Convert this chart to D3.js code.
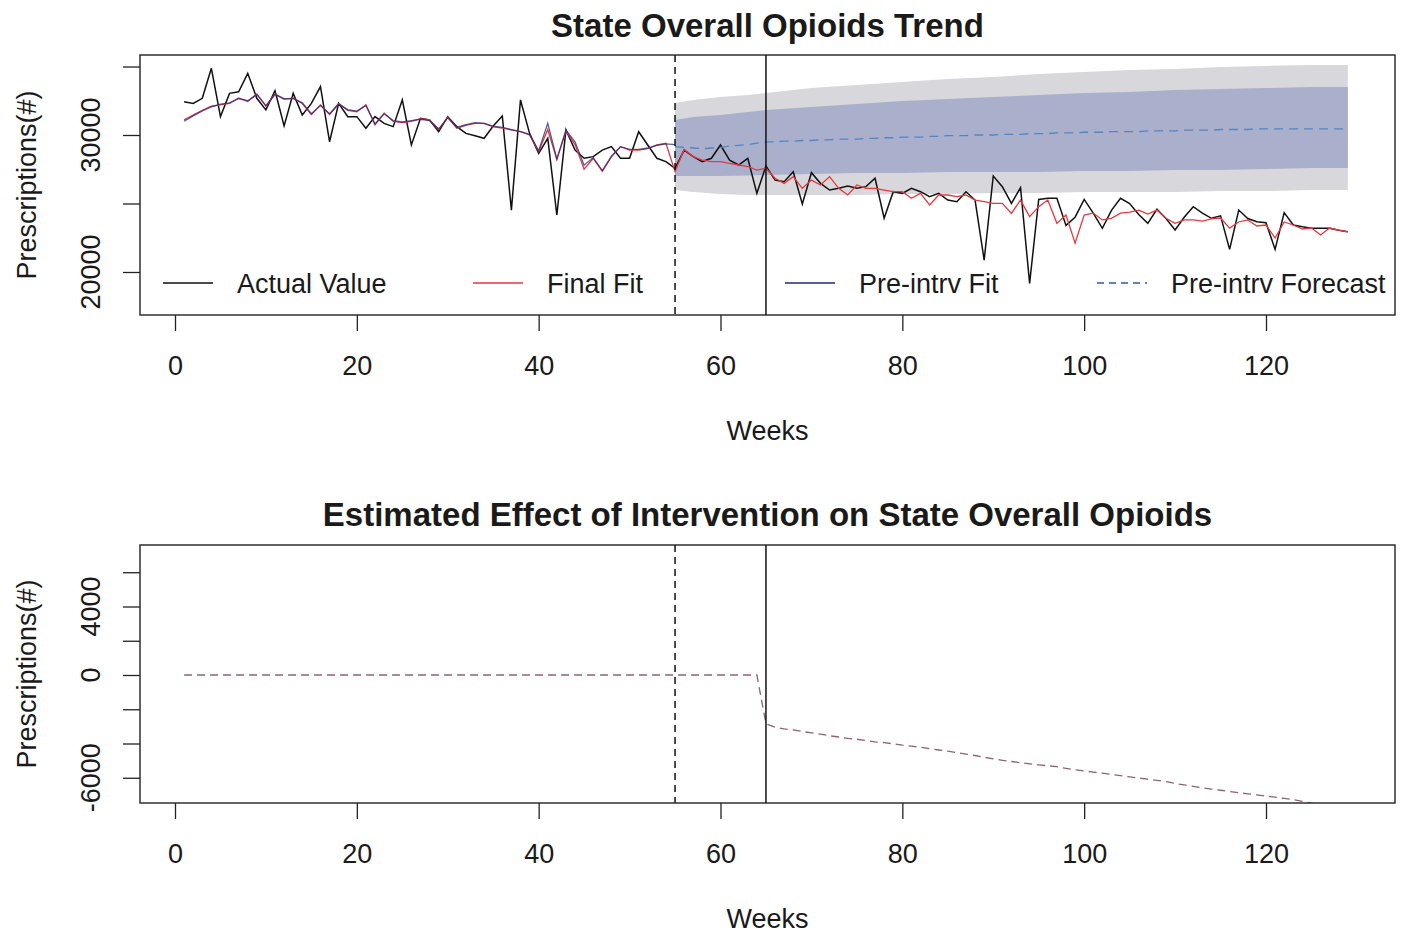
<!DOCTYPE html>
<html>
<head>
<meta charset="utf-8">
<script src="https://cdn.jsdelivr.net/npm/d3@7"></script>
<style>
body { margin: 0; background: #fff; }
text { font-family: "Liberation Sans", Arial, sans-serif; fill: #1a1a1a; }
</style>
</head>
<body>
<div id="chart"></div>
<script>
var width = 1401,
    height = 933;

// weekly values, week 1 .. 129
var actual = [
  32430, 32300, 32680, 34870, 31340, 33040, 33160, 34500, 32680, 31830,
  33230, 30660, 33040, 31460, 32310, 33530, 29510, 32310, 31340, 31340,
  30490, 31340, 30850, 30610, 32560, 29270, 31220, 31100, 30240, 31340,
  30610, 30120, 29950, 29760, 30660, 31390, 24520, 32560, 30120, 28660,
  29760, 24160, 30370, 28900, 28300, 28420, 28900, 29150, 28300, 28300,
  30240, 29270, 28300, 28060, 27570, 28900, 28420, 28060, 28300, 29270,
  28170, 27810, 28300, 25740, 27740, 26710, 26590, 27320, 24960, 27250,
  26470, 25980, 26110, 26280, 26110, 26230, 26840, 23920, 25860, 25740,
  26110, 25860, 25500, 25740, 25250, 25130, 25860, 25250, 20870, 27010,
  26230, 25010, 26150, 19170, 25300, 25380, 25380, 23400, 24000, 25300,
  24300, 23190, 24500, 25380, 25000, 24200, 23550, 24580, 23900, 23070,
  24000, 24770, 24300, 23920, 24100, 21650, 24520, 23900, 23670, 23600,
  21650, 24330, 23430, 23300, 23190, 23200, 23190, 23050, 22940
];

var finalFit = [
  31100, 31450, 31800, 32100, 32200, 32300, 32700, 32450, 33000, 32100,
  33000, 32600, 32700, 32300, 31500, 32200, 31500, 32300, 31800, 31700,
  32200, 30750, 31600, 31000, 30900, 31000, 31200, 31100, 30400, 31300,
  30500, 30700, 30850, 30850, 30600, 30500, 30370, 30240, 30000, 28800,
  30400, 28200, 30300, 29300, 27500, 28300, 27350, 28400, 29150, 28900,
  28900, 29000, 29270, 29390, 27320, 28950, 28420, 28170, 28060, 28060,
  27930, 27810, 27700, 27440, 27570, 26840, 26470, 26960, 26110, 26710,
  26350, 26960, 26110, 25620, 26350, 26110, 26110, 25980, 25860, 25860,
  25380, 25740, 24890, 25620, 25620, 25500, 25620, 25250, 25130, 25010,
  25010, 24280, 25250, 24040, 24770, 25250, 23550, 24160, 22100, 24160,
  24300, 23800, 23920, 24300, 24370, 24520, 24230, 24520, 23920, 23550,
  23800, 23800, 23720, 23870, 23940, 23200, 23650, 23800, 23360, 23430,
  22480, 23650, 23430, 23140, 23210, 22700, 23210, 23060, 22920
];

// pre-intervention fit, week 1 .. 55
var preFit = [
  31000, 31400, 31750, 32050, 32250, 32350, 32650, 32500, 32950, 32150,
  32950, 32650, 32650, 32350, 31550, 32150, 31550, 32250, 31850, 31750,
  32150, 30800, 31550, 31050, 30950, 31050, 31150, 31050, 30450, 31250,
  30550, 30750, 30900, 30850, 30650, 30550, 30400, 30250, 30050, 28850,
  30850, 28250, 30350, 29500, 27800, 28350, 27400, 28450, 29150, 28950,
  28950, 29050, 29250, 29350, 29300
];

// pre-intervention forecast, week 55 .. 129
var forecast = [
  29150, 29100, 29050, 29000, 29050, 29100, 29200, 29250, 29300, 29400,
  29500, 29500, 29550, 29550, 29600, 29600, 29650, 29650, 29700, 29700,
  29700, 29750, 29750, 29800, 29800, 29850, 29850, 29850, 29900, 29900,
  29950, 29950, 29950, 30000, 30000, 30000, 30050, 30050, 30050, 30100,
  30100, 30100, 30150, 30150, 30150, 30200, 30200, 30200, 30250, 30250,
  30250, 30250, 30300, 30300, 30300, 30300, 30350, 30350, 30350, 30350,
  30400, 30400, 30400, 30400, 30450, 30450, 30450, 30450, 30450, 30450,
  30450, 30450, 30450, 30450, 30450
];

// forecast intervals read at these weeks
var bandWeeks = [55, 57, 60, 63, 65, 70, 75, 80, 85, 90, 95, 100, 105, 110, 115, 120, 125, 129];
var outerHi = [32340, 32560, 32770, 32920, 33070, 33430, 33650, 33870, 34090, 34230, 34450, 34600, 34750, 34820, 34960, 35040, 35110, 35110];
var innerHi = [31100, 31310, 31460, 31680, 31830, 32040, 32260, 32480, 32630, 32770, 32920, 33070, 33140, 33290, 33360, 33430, 33500, 33500];
var innerLo = [27010, 27010, 27010, 27040, 27080, 27150, 27230, 27230, 27300, 27300, 27300, 27370, 27370, 27440, 27440, 27520, 27590, 27590];
var outerLo = [25990, 25840, 25700, 25620, 25620, 25620, 25620, 25700, 25700, 25770, 25770, 25840, 25840, 25840, 25910, 25910, 25990, 25990];

// estimated effect, week 1 .. 129
var effect = [
  0, 0, 0, 0, 0, 0, 0, 0, 0, 0,
  0, 0, 0, 0, 0, 0, 0, 0, 0, 0,
  0, 0, 0, 0, 0, 0, 0, 0, 0, 0,
  0, 0, 0, 0, 0, 0, 0, 0, 0, 0,
  0, 0, 0, 0, 0, 0, 0, 0, 0, 0,
  0, 0, 0, 0, 0, 0, 0, 0, 0, 0,
  0, 0, 0, 0, -2850, -3050, -3150, -3200, -3300, -3380,
  -3450, -3550, -3620, -3700, -3750, -3830, -3900, -3950, -4020, -4100,
  -4150, -4220, -4300, -4380, -4450, -4530, -4620, -4700, -4800, -4900,
  -4980, -5050, -5120, -5190, -5250, -5300, -5350, -5450, -5540, -5600,
  -5670, -5730, -5800, -5880, -5950, -6020, -6080, -6150, -6230, -6330,
  -6420, -6500, -6590, -6660, -6730, -6800, -6870, -6940, -7000, -7070,
  -7130, -7200, -7280, -7380, -7480, -7560, -7640, -7710, -7790
];

var xTicks = [0, 20, 40, 60, 80, 100, 120];
var topTicks = [20000, 25000, 30000, 35000];
var topLabels = [20000, 30000];
var botTicks = [-6000, -4000, -2000, 0, 2000, 4000, 6000];
var botLabels = [-6000, 0, 4000];

var preStart = 55,
    interventionWeek = 65;

var legendNames = ["Actual Value", "Final Fit", "Pre-intrv Fit", "Pre-intrv Forecast"];
var legendColors = ["#111111", "#e23a40", "#1f2a78", "#2f5aa8"];
var legendDash = [null, null, null, "7,5"];

var left = 140, right = 1395;
var topBox = { y0: 55, y1: 315 },
    botBox = { y0: 545, y1: 803 };

var svg = d3.select("#chart")
  .append("svg")
  .attr("width", width)
  .attr("height", height);

svg.append("rect")
  .attr("width", width)
  .attr("height", height)
  .attr("fill", "#fff");

var x = d3.scaleLinear().domain([0, 120]).range([175, 1266]);
var yTop = d3.scaleLinear().domain([16860, 35840]).range([topBox.y1, topBox.y0]);
var yBot = d3.scaleLinear().domain([-7474, 7591]).range([botBox.y1, botBox.y0]);

function addClip(id, box) {
  svg.append("clipPath")
    .attr("id", id)
    .append("rect")
    .attr("x", left)
    .attr("y", box.y0)
    .attr("width", right - left)
    .attr("height", box.y1 - box.y0);
}
addClip("clipTop", topBox);
addClip("clipBot", botBox);

function lineFrom(y, start) {
  return d3.line()
    .x(function (d, i) { return x(i + start); })
    .y(function (d) { return y(d); });
}

function drawAxes(box, y, ticks, labels) {
  svg.append("g")
    .attr("transform", "translate(0," + box.y1 + ")")
    .call(d3.axisBottom(x).tickValues(xTicks).tickSize(16).tickPadding(25))
    .call(function (g) {
      g.select(".domain").remove();
      g.selectAll("line").attr("stroke", "#222").attr("stroke-width", 1.3);
      g.selectAll("text").style("font-size", "27px").attr("fill", "#1a1a1a");
    });

  svg.append("g")
    .attr("transform", "translate(" + left + ",0)")
    .call(d3.axisLeft(y).tickValues(ticks).tickSize(17).tickFormat(""))
    .call(function (g) {
      g.select(".domain").remove();
      g.selectAll("line").attr("stroke", "#222").attr("stroke-width", 1.3);
    });

  svg.selectAll(null)
    .data(labels)
    .enter()
    .append("text")
    .attr("transform", function (d) { return "translate(100," + y(d) + ") rotate(-90)"; })
    .attr("text-anchor", "middle")
    .style("font-size", "27px")
    .text(function (d) { return d; });

  svg.append("text")
    .attr("transform", "translate(36," + (box.y0 + box.y1) / 2 + ") rotate(-90)")
    .attr("text-anchor", "middle")
    .style("font-size", "27px")
    .text("Prescriptions(#)");

  svg.append("text")
    .attr("x", (left + right) / 2)
    .attr("y", box.y1 + 125)
    .attr("text-anchor", "middle")
    .style("font-size", "27px")
    .text("Weeks");
}

function drawMarkers(box) {
  svg.append("line")
    .attr("x1", x(preStart)).attr("x2", x(preStart))
    .attr("y1", box.y0).attr("y2", box.y1)
    .attr("stroke", "#111")
    .attr("stroke-width", 1.5)
    .attr("stroke-dasharray", "7,5");
  svg.append("line")
    .attr("x1", x(interventionWeek)).attr("x2", x(interventionWeek))
    .attr("y1", box.y0).attr("y2", box.y1)
    .attr("stroke", "#111")
    .attr("stroke-width", 1.5);
}

// ---------- top panel ----------
var gTop = svg.append("g").attr("clip-path", "url(#clipTop)");

function band(hi, lo) {
  return d3.area()
    .x(function (d, i) { return x(bandWeeks[i]); })
    .y0(function (d, i) { return yTop(lo[i]); })
    .y1(function (d, i) { return yTop(hi[i]); });
}

gTop.append("path")
  .datum(bandWeeks)
  .attr("d", band(outerHi, outerLo))
  .attr("fill", "#d7d7dc");

gTop.append("path")
  .datum(bandWeeks)
  .attr("d", band(innerHi, innerLo))
  .attr("fill", "#aab0cb");

gTop.append("path")
  .datum(actual)
  .attr("d", lineFrom(yTop, 1))
  .attr("fill", "none")
  .attr("stroke", legendColors[0])
  .attr("stroke-width", 1.5);

gTop.append("path")
  .datum(finalFit)
  .attr("d", lineFrom(yTop, 1))
  .attr("fill", "none")
  .attr("stroke", legendColors[1])
  .attr("stroke-width", 1.3);

gTop.append("path")
  .datum(preFit)
  .attr("d", lineFrom(yTop, 1))
  .attr("fill", "none")
  .attr("stroke", legendColors[2])
  .attr("stroke-opacity", 0.75)
  .attr("stroke-width", 1.3);

gTop.append("path")
  .datum(forecast)
  .attr("d", lineFrom(yTop, preStart))
  .attr("fill", "none")
  .attr("stroke", "#4f86c6")
  .attr("stroke-width", 1.3)
  .attr("stroke-dasharray", "9,6");

drawMarkers(topBox);

var legendX = [163, 473, 785, 1097];
var legend = svg.selectAll(".legend")
  .data(legendNames)
  .enter()
  .append("g")
  .attr("class", "legend")
  .attr("transform", function (d, i) { return "translate(" + legendX[i] + ",283)"; });

legend.append("line")
  .attr("x1", 0).attr("x2", 50)
  .attr("stroke", function (d, i) { return legendColors[i]; })
  .attr("stroke-width", 1.4)
  .attr("stroke-dasharray", function (d, i) { return legendDash[i]; });

legend.append("text")
  .attr("x", 74)
  .attr("dy", "0.36em")
  .style("font-size", "27px")
  .text(function (d) { return d; });

svg.append("rect")
  .attr("x", left).attr("y", topBox.y0)
  .attr("width", right - left).attr("height", topBox.y1 - topBox.y0)
  .attr("fill", "none")
  .attr("stroke", "#222")
  .attr("stroke-width", 1.4);

drawAxes(topBox, yTop, topTicks, topLabels);

svg.append("text")
  .attr("x", (left + right) / 2)
  .attr("y", 37)
  .attr("text-anchor", "middle")
  .style("font-size", "33px")
  .style("font-weight", "bold")
  .text("State Overall Opioids Trend");

// ---------- bottom panel ----------
var gBot = svg.append("g").attr("clip-path", "url(#clipBot)");

gBot.append("path")
  .datum(effect)
  .attr("d", lineFrom(yBot, 1))
  .attr("fill", "none")
  .attr("stroke", "#8e6272")
  .attr("stroke-width", 1.3)
  .attr("stroke-dasharray", "8,5");

drawMarkers(botBox);

svg.append("rect")
  .attr("x", left).attr("y", botBox.y0)
  .attr("width", right - left).attr("height", botBox.y1 - botBox.y0)
  .attr("fill", "none")
  .attr("stroke", "#222")
  .attr("stroke-width", 1.4);

drawAxes(botBox, yBot, botTicks, botLabels);

svg.append("text")
  .attr("x", (left + right) / 2)
  .attr("y", 526)
  .attr("text-anchor", "middle")
  .style("font-size", "33px")
  .style("font-weight", "bold")
  .text("Estimated Effect of Intervention on State Overall Opioids");
</script>
</body>
</html>
